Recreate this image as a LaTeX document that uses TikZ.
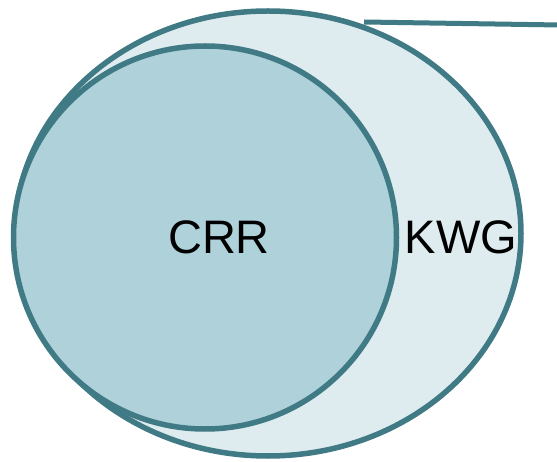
\documentclass[tikz,border=0pt]{standalone}
\usepackage{fontspec}
\setmainfont{Liberation Sans}
\usetikzlibrary{shapes.geometric}
\definecolor{rim}{HTML}{3F7A85}
\definecolor{paleset}{HTML}{DEECF0}
\definecolor{innerset}{HTML}{AFD1DA}
\tikzset{
  setrim/.style={draw=rim, line width=5.5pt},
  setlabel/.style={font=\fontsize{47}{47}\selectfont, text=black}
}
\begin{document}
\begin{tikzpicture}[x=1pt, y=-1pt]
  \useasboundingbox (0,0) rectangle (557,462);
  % outer set
  \node[setrim, fill=paleset, ellipse, minimum width=506pt, minimum height=445pt, inner sep=0pt] (kwg) at (268,233.5) {};
  % inner set
  \node[setrim, fill=innerset, circle, minimum size=383pt, inner sep=0pt] (crr) at (205,237.5) {};
  \node[setlabel] (crrlabel) at (219,237) {CRR};
  \node[setlabel] (kwglabel) at (461,237) {KWG};
  % leader line
  \coordinate (leadstart) at (364,22);
  \coordinate (leadend) at (560,25);
  \draw[draw=rim, line width=5pt] (leadstart) -- (leadend);
\end{tikzpicture}
\end{document}
